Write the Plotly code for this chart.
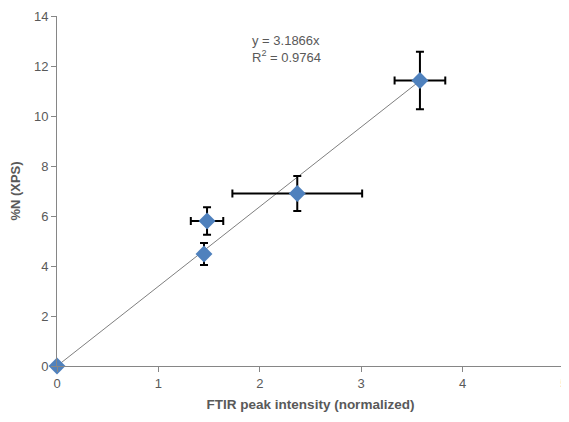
import plotly.graph_objects as go

# Data
ftir = [0.0, 1.45, 1.48, 2.37, 3.58]
ftir_err = [0.0, 0.03, 0.16, 0.64, 0.25]
n_xps = [0.0, 4.48, 5.8, 6.9, 11.42]
n_err = [0.0, 0.44, 0.55, 0.7, 1.15]
slope = 3.1866
r2 = 0.9764
fit_x = [0.0, 3.58]
fit_y = [slope * v for v in fit_x]
x_ticks = [0, 1, 2, 3, 4, 5]
y_ticks = [0, 2, 4, 6, 8, 10, 12, 14]

grey = "#595959"
fig = go.Figure()
fig.add_trace(go.Scatter(x=fit_x, y=fit_y, mode="lines",
                         line=dict(color="#7f7f7f", width=1), showlegend=False, hoverinfo="skip"))
fig.add_trace(go.Scatter(
    x=ftir, y=n_xps, mode="markers",
    marker=dict(symbol="diamond", size=13, color="#4F81BD"),
    error_x=dict(type="data", array=ftir_err, color="black", thickness=2, width=4),
    error_y=dict(type="data", array=n_err, color="black", thickness=2, width=4),
    showlegend=False, cliponaxis=False))

fig.add_annotation(x=0.453, y=0.907, xref="paper", yref="paper", showarrow=False,
                   xanchor="center", yanchor="middle",
                   text="y = %.4fx<br>R<sup>2</sup> = %.4f" % (slope, r2), align="left",
                   font=dict(family="Liberation Sans, Arial", size=13, color=grey))

fig.update_layout(
    width=561, height=414, margin=dict(l=49, r=5, t=8, b=56),
    paper_bgcolor="white", plot_bgcolor="white",
    font=dict(family="Liberation Sans, Arial", size=13, color=grey),
    xaxis=dict(range=[0, 5.001], tickvals=x_ticks, showgrid=False, zeroline=False, showline=True, automargin=False,
               ticklabeloverflow="allow", tickfont=dict(size=13),
               linecolor="#868686", linewidth=1, ticks="outside", ticklen=5, tickcolor="#868686",
               title=dict(text="<b>FTIR peak intensity (normalized)</b>", font=dict(size=13.5, color=grey), standoff=9)),
    yaxis=dict(range=[0, 14], tickvals=y_ticks, showgrid=False, zeroline=False, showline=True, automargin=False,
               tickfont=dict(size=13),
               linecolor="#868686", linewidth=1, ticks="outside", ticklen=5, tickcolor="#868686",
               title=dict(text="<b>%N (XPS)</b>", font=dict(size=13, color=grey), standoff=11)),
)
fig.write_html("out.html")
